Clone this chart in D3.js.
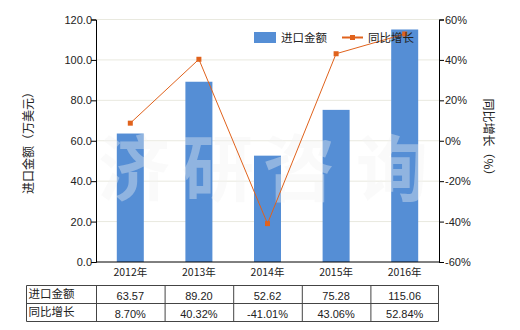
<!DOCTYPE html>
<html><head><meta charset="utf-8">
<script src="https://cdn.jsdelivr.net/npm/d3@7/dist/d3.min.js"></script>
<style>body{margin:0;background:#fff}svg{display:block}</style>
</head><body><svg id="c" width="520" height="330"></svg>
<script>
const years = ["2012年","2013年","2014年","2015年","2016年"];
const importValues = [63.57, 89.20, 52.62, 75.28, 115.06];
const growthValues = [8.70, 40.32, -41.01, 43.06, 52.84];
const importLabels = ["63.57","89.20","52.62","75.28","115.06"];
const growthLabels = ["8.70%","40.32%","-41.01%","43.06%","52.84%"];
const leftTicks = [0,20,40,60,80,100,120];
const rightTicks = [-60,-40,-20,0,20,40,60];
const seriesNames = ["进口金额","同比增长"];

const svg = d3.select("#c");
const font = "'Liberation Sans', Arial, sans-serif";
const cjk = "'Noto Sans CJK SC', sans-serif";
const L = 96, R = 439, T = 19.5, B = 262;
const barColor = "#558ED5", lineColor = "#E0621C";

const xc = d3.scaleBand().domain(years).range([L, R]);
const yL = d3.scaleLinear().domain([0,120]).range([B, T]);
const yR = d3.scaleLinear().domain([-60,60]).range([B, T]);

// gridlines
svg.append("g").selectAll("line").data(leftTicks.slice(1)).join("line")
  .attr("x1", L).attr("x2", R).attr("y1", d=>yL(d)).attr("y2", d=>yL(d))
  .attr("stroke", "#e9e9df").attr("stroke-width", 1);

// bars
svg.append("g").selectAll("rect").data(importValues).join("rect")
  .attr("x", (d,i)=>xc(years[i]) + xc.bandwidth()/2 - 13.5)
  .attr("width", 27)
  .attr("y", d=>yL(d)).attr("height", d=>B - yL(d))
  .attr("fill", barColor);

// watermark
const wmX = [134, 218, 299, 392];
svg.append("g").selectAll("text").data(["济","研","咨","询"]).join("text")
  .attr("x", (d,i)=>wmX[i]).attr("y", 195)
  .attr("font-family", cjk).attr("font-size", 72).attr("font-weight", "bold")
  .attr("text-anchor", "middle")
  .attr("fill", "#f2f2f2").attr("fill-opacity", 0.38)
  .text(d=>d);

// line
const line = d3.line().x((d,i)=>xc(years[i]) + xc.bandwidth()/2).y(d=>yR(d));
svg.append("path").datum(growthValues).attr("d", line)
  .attr("fill", "none").attr("stroke", lineColor).attr("stroke-width", 1);
svg.append("g").selectAll("rect").data(growthValues).join("rect")
  .attr("x", (d,i)=>xc(years[i]) + xc.bandwidth()/2 - 2.5)
  .attr("y", d=>yR(d) - 2.5).attr("width", 5).attr("height", 5)
  .attr("fill", lineColor);

// axes
const axL = d3.axisLeft(yL).tickValues(leftTicks).tickSize(5).tickFormat(d3.format(".1f"));
const gL = svg.append("g").attr("transform", `translate(${L},0)`).call(axL);
const axR = d3.axisRight(yR).tickValues(rightTicks).tickSize(5).tickFormat(d=>d+"%");
const gR = svg.append("g").attr("transform", `translate(${R},0)`).call(axR);
const axB = d3.axisBottom(xc).tickSize(0).tickPadding(7);
const gB = svg.append("g").attr("transform", `translate(0,${B})`).call(axB);
[gL,gR,gB].forEach(g=>{
  g.selectAll(".domain").attr("stroke","#000");
  g.selectAll(".tick line").attr("stroke","#000");
  g.selectAll("text").attr("font-family", font).attr("font-size", 11).attr("fill","#222");
});
gL.selectAll("text").attr("x", -4);
gR.selectAll("text").attr("x", 6);
gB.selectAll("text").attr("font-family", cjk).attr("font-size", 10.5);
gB.select(".domain").attr("d", `M${L},0H${R}`);

// axis titles
svg.append("text").attr("transform", "translate(33,140) rotate(-90)")
  .attr("text-anchor","middle").attr("font-family", cjk).attr("font-size", 12).attr("fill","#222")
  .text("进口金额（万美元）");
svg.append("text").attr("transform", "translate(484,140) rotate(90)")
  .attr("text-anchor","middle").attr("font-family", cjk).attr("font-size", 12).attr("fill","#222")
  .text("同比增长（%）");

// legend
svg.append("rect").attr("x",254).attr("y",32).attr("width",22).attr("height",11).attr("fill",barColor);
svg.append("text").attr("x",281).attr("y",42).attr("font-family",cjk).attr("font-size",11.5).attr("fill","#222").text(seriesNames[0]);
svg.append("line").attr("x1",342).attr("x2",363).attr("y1",37.5).attr("y2",37.5).attr("stroke",lineColor).attr("stroke-width",2);
svg.append("rect").attr("x",350).attr("y",35).attr("width",5).attr("height",5).attr("fill",lineColor);
svg.append("text").attr("x",368).attr("y",42).attr("font-family",cjk).attr("font-size",11.5).attr("fill","#222").text(seriesNames[1]);

// table
const tL = 26.5, tR = 438.5, rows = [285.5, 303.5, 321.5];
const tg = svg.append("g");
const colEdges = [tL, L + 0.5].concat(years.map(y=>xc(y)+xc.bandwidth()+0.5));
colEdges[colEdges.length-1] = tR;
rows.forEach(r=>tg.append("line").attr("x1",tL).attr("x2",tR).attr("y1",r).attr("y2",r).attr("stroke","#444"));
colEdges.forEach(c=>tg.append("line").attr("x1",c).attr("x2",c).attr("y1",rows[0]).attr("y2",rows[2]).attr("stroke","#444"));
const tableRows = [importLabels, growthLabels];
tableRows.forEach((vals, ri)=>{
  const cy = (rows[ri] + rows[ri+1])/2 + 4;
  tg.append("text").attr("x", tL + 2).attr("y", cy - 1).attr("font-family", cjk).attr("font-size", 11.5).attr("fill","#222").text(seriesNames[ri]);
  tg.selectAll(null).data(vals).join("text")
    .attr("x", (d,i)=>xc(years[i]) + xc.bandwidth()/2).attr("y", cy + 1)
    .attr("text-anchor","middle").attr("font-family", font).attr("font-size", 11).attr("fill","#222")
    .text(d=>d);
});
</script></body></html>
